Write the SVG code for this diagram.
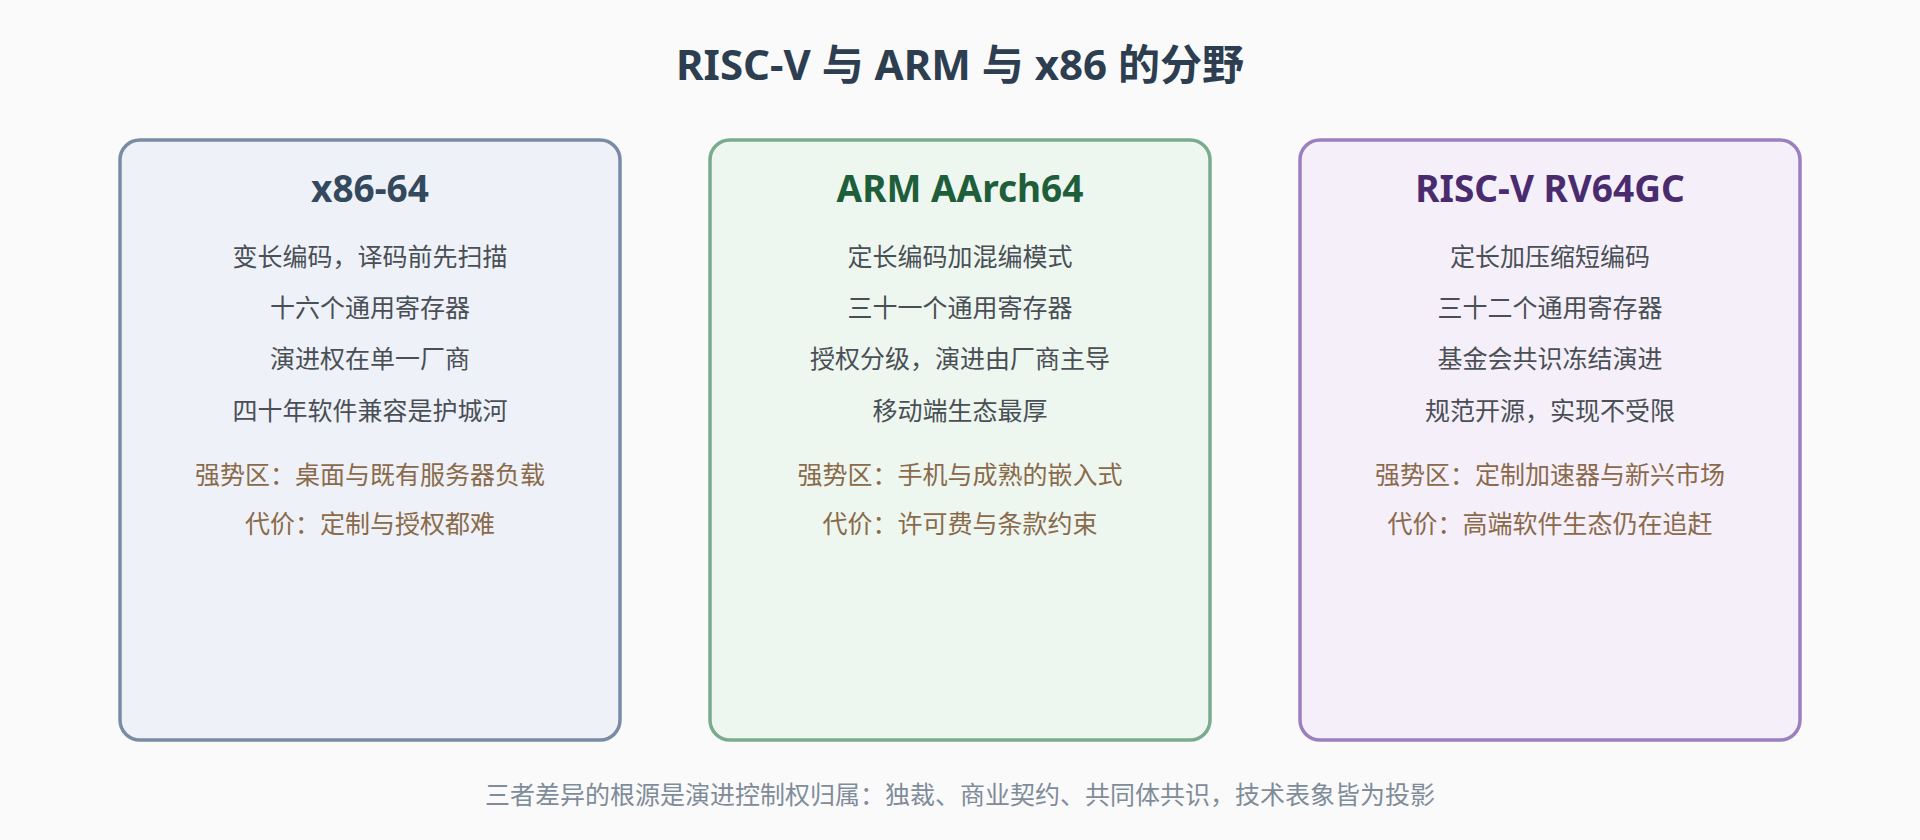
<svg xmlns="http://www.w3.org/2000/svg" width="1920" height="840" viewBox="0 0 1920 840">
<style>
text{font-family:"Noto Sans","Noto Sans CJK SC",sans-serif;text-anchor:middle}
.t{font-size:42px;font-weight:bold;fill:#2c3e50}
.h{font-size:37px;font-weight:bold}
.b{font-size:25px;fill:#4a4f55}
.s{font-size:25px;fill:#8a6a4a}
.f{font-size:25px;fill:#7f8c9a}
.box{stroke-width:3.5}
</style>
<rect width="1920" height="840" fill="#fafafa"/>
<text class="t" x="960" y="80">RISC-V 与 ARM 与 x86 的分野</text>
<g id="x86">
<rect class="box" x="120" y="140" width="500" height="600" rx="20" fill="#eef2f8" stroke="#7a8ca3"/>
<text class="h" x="370" y="202" fill="#34495e">x86-64</text>
<text class="b" x="370" y="266">变长编码，译码前先扫描</text>
<text class="b" x="370" y="317">十六个通用寄存器</text>
<text class="b" x="370" y="368">演进权在单一厂商</text>
<text class="b" x="370" y="420">四十年软件兼容是护城河</text>
<text class="s" x="370" y="484">强势区：桌面与既有服务器负载</text>
<text class="s" x="370" y="533">代价：定制与授权都难</text>
</g>
<g id="arm">
<rect class="box" x="710" y="140" width="500" height="600" rx="20" fill="#edf7f0" stroke="#7aab8e"/>
<text class="h" x="960" y="202" fill="#1e5e3a">ARM AArch64</text>
<text class="b" x="960" y="266">定长编码加混编模式</text>
<text class="b" x="960" y="317">三十一个通用寄存器</text>
<text class="b" x="960" y="368">授权分级，演进由厂商主导</text>
<text class="b" x="960" y="420">移动端生态最厚</text>
<text class="s" x="960" y="484">强势区：手机与成熟的嵌入式</text>
<text class="s" x="960" y="533">代价：许可费与条款约束</text>
</g>
<g id="riscv">
<rect class="box" x="1300" y="140" width="500" height="600" rx="20" fill="#f5effa" stroke="#9b7fbf"/>
<text class="h" x="1550" y="202" fill="#4a2c6e">RISC-V RV64GC</text>
<text class="b" x="1550" y="266">定长加压缩短编码</text>
<text class="b" x="1550" y="317">三十二个通用寄存器</text>
<text class="b" x="1550" y="368">基金会共识冻结演进</text>
<text class="b" x="1550" y="420">规范开源，实现不受限</text>
<text class="s" x="1550" y="484">强势区：定制加速器与新兴市场</text>
<text class="s" x="1550" y="533">代价：高端软件生态仍在追赶</text>
</g>
<g id="connectors"/>
<text class="f" x="960" y="804">三者差异的根源是演进控制权归属：独裁、商业契约、共同体共识，技术表象皆为投影</text>
</svg>
